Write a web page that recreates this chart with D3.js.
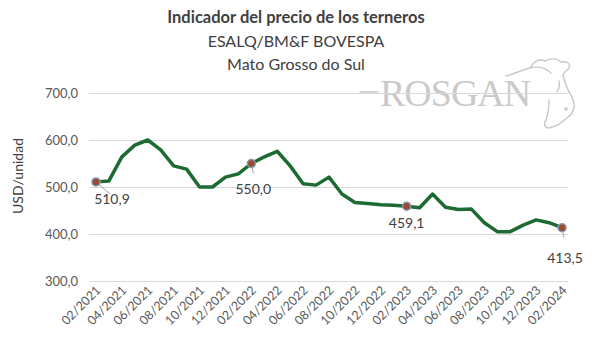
<!DOCTYPE html>
<html><head><meta charset="utf-8">
<script src="https://cdn.jsdelivr.net/npm/d3@7"></script>
<style>body{margin:0;background:#fff}svg{display:block}</style>
</head><body><svg id="c" width="600" height="350"></svg>
<script>
const months = ["02/2021","03/2021","04/2021","05/2021","06/2021","07/2021","08/2021","09/2021","10/2021","11/2021","12/2021",
"01/2022","02/2022","03/2022","04/2022","05/2022","06/2022","07/2022","08/2022","09/2022","10/2022","11/2022","12/2022",
"01/2023","02/2023","03/2023","04/2023","05/2023","06/2023","07/2023","08/2023","09/2023","10/2023","11/2023","12/2023",
"01/2024","02/2024"];
const prices = [510.9,513,564,589,600,579,545,538,500,500,521,
528,550.0,564,576,545,507,504,521,485,467,465,462,
461,459.1,456,485,457,452,453,424,405,405,419,430,
424,413.5];
const tickLabels = ["02/2021","04/2021","06/2021","08/2021","10/2021","12/2021","02/2022","04/2022","06/2022","08/2022","10/2022","12/2022","02/2023","04/2023","06/2023","08/2023","10/2023","12/2023","02/2024"];
const yTicks = [300,400,500,600,700];
const labeled = ["02/2021","02/2022","02/2023","02/2024"];
const titleLines = ["Indicador del precio de los terneros","ESALQ/BM&F BOVESPA","Mato Grosso do Sul"];
const yTitle = "USD/unidad";

const font = "Lato, 'Open Sans', sans-serif";
const svg = d3.select("#c");
const x = d3.scalePoint().domain(months).range([89.5,568.5]).padding(0.5);
const y = d3.scaleLinear().domain([300,700]).range([281,93]);
const fmt = v => d3.format(".1f")(v).replace(".", ",");

// watermark logo
const logo = svg.append("g").attr("fill","none").attr("stroke","#c8c8c8").attr("stroke-width",1.4).attr("stroke-linecap","round");
svg.append("text").attr("x",380).attr("y",106).attr("font-family","'Liberation Serif', 'DejaVu Serif', serif")
  .attr("font-size",38).attr("fill","#c9c9c9").attr("letter-spacing",-1).text("ROSGAN");
logo.append("path").attr("d","M360,92 L378,92");
logo.append("path").attr("d","M506,76 C514,74 522,70 530,68 C533,62 539,58 545,61 C550,58 557,58 561,62 C566,61 571,63 569,68 C567,71 563,72 563,75 C565,83 568,91 572,97 C576,105 574,113 568,117 C562,123 555,127 549,128 C545,128 543,124 546,120");
logo.append("path").attr("d","M530,68 C538,66 546,68 551,73 M559,81 C560,85 559,89 557,92 M546,120 C548,114 549,106 549,100");
logo.append("circle").attr("cx",566).attr("cy",109).attr("r",1).attr("fill","#c8c8c8");

// titles
const ty = [23,47,70];
titleLines.forEach((t,i)=>{
  svg.append("text").attr("x",296).attr("y",ty[i]).attr("text-anchor","middle")
    .attr("font-family",font).attr("font-size", i===0?16.5:16).attr("font-weight", i===0?"bold":"normal")
    .attr("fill","#404040").text(t);
});

// gridlines
svg.append("g").selectAll("line").data(yTicks).join("line")
  .attr("x1",89.5).attr("x2",568.5).attr("y1",d=>y(d)+0.5).attr("y2",d=>y(d)+0.5)
  .attr("stroke","#d9d9d9").attr("stroke-width",1);

// y axis
const ya = svg.append("g").attr("transform","translate(78,0)")
  .call(d3.axisLeft(y).tickValues(yTicks).tickSize(0).tickPadding(0).tickFormat(fmt));
ya.select(".domain").remove();
ya.selectAll("text").attr("font-family",font).attr("font-size",13).attr("fill","#595959");

// y title
svg.append("text").attr("transform","translate(23,176) rotate(-90)").attr("text-anchor","middle")
  .attr("font-family",font).attr("font-size",14).attr("fill","#404040").text(yTitle);

// x axis
const xa = svg.append("g").attr("transform","translate(0,281)")
  .call(d3.axisBottom(x).tickValues(tickLabels).tickSize(0).tickPadding(0));
xa.select(".domain").remove();
xa.selectAll("text").attr("font-family",font).attr("font-size",12.5).attr("fill","#595959")
  .attr("text-anchor","end").attr("dy",null).attr("y",0)
  .attr("transform","translate(5,10) rotate(-45)");

// line
svg.append("path").datum(prices)
  .attr("d", d3.line().x((d,i)=>x(months[i])).y(d=>y(d)))
  .attr("fill","none").attr("stroke","#1d6b32").attr("stroke-width",3.5).attr("stroke-linejoin","round");

// labels with leaders
const labelOffsets = {"02/2021":[16,22,14,12],"02/2022":[2,30,2,10],"02/2023":[0,22,0,0],"02/2024":[3,35,2,10]};
labeled.forEach(m=>{
  const i = months.indexOf(m), px = x(m), py = y(prices[i]);
  const o = labelOffsets[m];
  if (o[3]) svg.append("line").attr("x1",px).attr("y1",py).attr("x2",px+o[2]).attr("y2",py+o[3])
    .attr("stroke","#a6a6a6").attr("stroke-width",1);
  svg.append("text").attr("x",px+o[0]).attr("y",py+o[1]).attr("text-anchor","middle")
    .attr("font-family",font).attr("font-size",14).attr("fill","#404040").text(fmt(prices[i]));
  svg.append("circle").attr("cx",px).attr("cy",py).attr("r",4)
    .attr("fill","#9c4a2a").attr("stroke","#8596b8").attr("stroke-width",1.5);
});
</script></body></html>
